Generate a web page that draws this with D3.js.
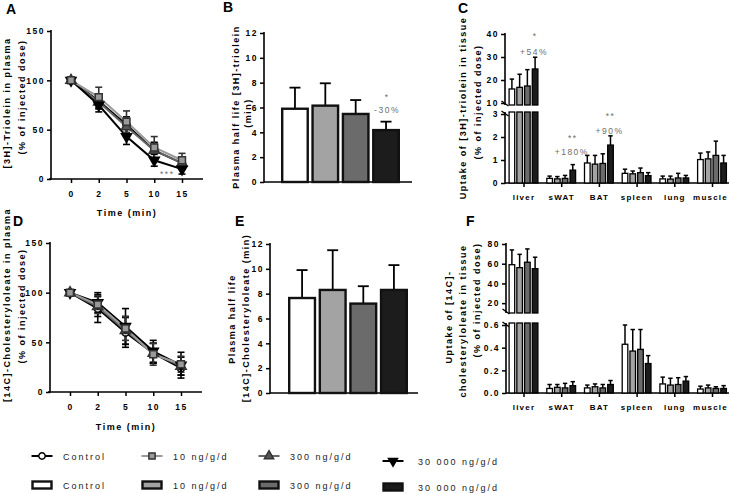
<!DOCTYPE html>
<html><head><meta charset="utf-8">
<script src="https://cdn.jsdelivr.net/npm/d3@7"></script>
<style>
body{margin:0;background:#fff;}
svg{display:block;font-family:"Liberation Sans",Arial,sans-serif;}
.tick text{font-size:8.5px;font-weight:bold;letter-spacing:1.5px;fill:#000;}
.tick line{stroke:#000;stroke-width:1.5px;}
.ttl{font-size:9px;font-weight:bold;letter-spacing:1.5px;fill:#000;}
.let{font-size:14px;font-weight:bold;fill:#000;}
.note{font-size:8.5px;letter-spacing:1.5px;fill:#6e6e6e;}
.leg{font-size:9px;letter-spacing:2px;fill:#222;}
</style></head><body>
<svg id="c" width="730" height="493"></svg>
<script>
// ---------- data ----------
const timeLabels = ["0","2","5","10","15"];
const groups = ["Control","10 ng/g/d","300 ng/g/d","30 000 ng/g/d"];
const tissues = ["liver","sWAT","BAT","spleen","lung","muscle"];

// A: [3H]-triolein in plasma (% of injected dose)
const aControl = [100,79,55,29,16];   const aControlSD = [0,7,8,8,6];
const a10      = [100,83,58,32,19];   const a10SD      = [0,10,11,11,7];
const a300     = [100,78,53,29,16];   const a300SD     = [0,7,8,8,6];
const a30000   = [100,75,43,19,10];   const a30000SD   = [0,7,8,6,5];

// D: [14C]-cholesteryloleate in plasma
const dControl = [100,84,60,39,24];   const dControlSD = [0,14,15,10,7];
const d10      = [100,88,64,38,28];   const d10SD      = [0,9,12,11,8];
const d300     = [100,86,62,39,26];   const d300SD     = [0,10,14,10,9];
const d30000   = [100,90,66,41,27];   const d30000SD   = [0,10,18,11,13];

// B / E: plasma half life (min)
const bMean = [5.9,6.15,5.48,4.18];  const bSD = [1.7,1.8,1.12,0.68];
const eMean = [7.65,8.3,7.2,8.3];    const eSD = [2.25,3.2,1.4,2.0];

// C: uptake of [3H]-triolein in tissue
const cControl = [16.1,0.2,0.87,0.42,0.18,1.02]; const cControlSD = [4.3,0.1,0.33,0.18,0.12,0.28];
const c10      = [16.8,0.18,0.82,0.4,0.17,1.05]; const c10SD      = [5.7,0.1,0.38,0.12,0.13,0.3];
const c300     = [17.4,0.2,0.85,0.45,0.22,1.2];  const c300SD     = [7.1,0.13,0.42,0.2,0.2,0.62];
const c30000   = [24.8,0.56,1.65,0.32,0.22,0.87];const c30000SD   = [5.1,0.24,0.4,0.13,0.11,0.33];

// F: uptake of [14C]-cholesteryloleate in tissue
const fControl = [59,0.04,0.045,0.43,0.08,0.035];  const fControlSD = [15,0.035,0.025,0.17,0.06,0.025];
const f10      = [56,0.05,0.055,0.37,0.07,0.045];  const f10SD      = [13.5,0.025,0.025,0.19,0.06,0.025];
const f300     = [61.5,0.045,0.045,0.385,0.075,0.04]; const f300SD  = [13.5,0.04,0.03,0.175,0.06,0.015];
const f30000   = [55,0.065,0.075,0.26,0.105,0.04]; const f30000SD   = [11.6,0.035,0.035,0.07,0.04,0.025];

const bNotes = [{group:"30 000 ng/g/d", star:"*", pct:"-30%", starV:7.0, pctV:5.8}];
const cNotes = [
  {tissue:"liver", star:"*",  pct:"+54%",  starV:40.2, pctV:32.3, seg:0},
  {tissue:"sWAT",  star:"**", pct:"+180%", starV:2.05, pctV:1.35, seg:1},
  {tissue:"BAT",   star:"**", pct:"+90%",  starV:3.0,  pctV:2.28, seg:1}
];

// ---------- styles ----------
const barFill = ["#ffffff","#a3a3a3","#6b6b6b","#1c1c1c"];
const lineCol = ["#000","#9a9a9a","#666","#000"];
const markFill = ["#fff","#9a9a9a","#555","#000"];
const markStroke = ["#000","#333","#333","#000"];
const markType = [d3.symbolCircle, d3.symbolSquare, d3.symbolTriangle, d3.symbolTriangle];
const markSize = [40, 48, 46, 44];
const markRot = [0,0,0,180];

const svg = d3.select("#c");

function vline(g,x,y1,y2,w){ g.append("line").attr("x1",x).attr("x2",x).attr("y1",y1).attr("y2",y2).attr("stroke","#000").attr("stroke-width",w||1.6); }
function hline(g,y,x1,x2,w){ g.append("line").attr("x1",x1).attr("x2",x2).attr("y1",y).attr("y2",y).attr("stroke","#000").attr("stroke-width",w||1.6); }
function yAxisAt(x, scale, ticks, fmt){
  const g = svg.append("g").attr("transform",`translate(${x},0)`)
    .call(d3.axisLeft(scale).tickValues(ticks).tickSize(4).tickPadding(2).tickFormat(fmt||d3.format("d")));
  g.select(".domain").remove();
  return g;
}
function rotLabel(x,y,txt){
  svg.append("text").attr("class","ttl").attr("text-anchor","middle")
    .attr("transform",`translate(${x},${y}) rotate(-90)`).text(txt);
}
function letter(x,y,t){ svg.append("text").attr("class","let").attr("x",x).attr("y",y).text(t); }

// ---------- line panels (A, D) ----------
function linePanel(cfg){
  const x = d3.scalePoint().domain(timeLabels).range([cfg.x0+20, cfg.x0+131]);
  const y = d3.scaleLinear().domain([0,150]).range([cfg.yBot, cfg.yTop]);
  vline(svg, cfg.x0, cfg.yTop-1, cfg.yBot+0.8);
  hline(svg, cfg.yBot, cfg.x0-2, cfg.x0+152);
  yAxisAt(cfg.x0, y, [0,50,100,150]);
  const xa = svg.append("g").attr("transform",`translate(0,${cfg.yBot})`)
    .call(d3.axisBottom(x).tickSize(4).tickPadding(8));
  xa.select(".domain").remove();
  const order = [0,2,3,1];
  const g = svg.append("g");
  order.forEach(i=>{
    g.append("path").datum(cfg.means[i])
      .attr("fill","none").attr("stroke",lineCol[i]).attr("stroke-width",2)
      .attr("d", d3.line().x((d,j)=>x(timeLabels[j])).y(d=>y(d)));
  });
  order.forEach(i=>{
    cfg.means[i].forEach((m,j)=>{
      const s = cfg.sds[i][j]; if(!s) return;
      const xx = x(timeLabels[j]);
      const col = i===1 ? "#333" : "#000";
      g.append("line").attr("x1",xx).attr("x2",xx).attr("y1",y(m-s)).attr("y2",y(m+s)).attr("stroke",col).attr("stroke-width",1.6);
      [m-s,m+s].forEach(v=>g.append("line").attr("x1",xx-3.5).attr("x2",xx+3.5).attr("y1",y(v)).attr("y2",y(v)).attr("stroke",col).attr("stroke-width",1.6));
    });
  });
  order.forEach(i=>{
    cfg.means[i].forEach((m,j)=>{
      g.append("path").attr("d", d3.symbol().type(markType[i]).size(markSize[i])())
        .attr("transform",`translate(${x(timeLabels[j])},${y(m)}) rotate(${markRot[i]})`)
        .attr("fill",markFill[i]).attr("stroke",markStroke[i]).attr("stroke-width",1.5);
    });
  });
  svg.append("text").attr("class","ttl").attr("text-anchor","middle").attr("x",cfg.x0+76).attr("y",cfg.titleY).text("Time (min)");
  return {x,y};
}

const A = linePanel({x0:51, yTop:31, yBot:179, titleY:216,
  means:[aControl,a10,a300,a30000], sds:[aControlSD,a10SD,a300SD,a30000SD]});
svg.append("text").attr("class","note").attr("text-anchor","middle").attr("x",A.x("10")+13).attr("y",A.y(0)-2).text("***");
rotLabel(10,103,"[3H]-Triolein in plasma");
rotLabel(25,97,"(% of injected dose)");
letter(6,14,"A");

const D = linePanel({x0:50, yTop:243, yBot:392, titleY:430,
  means:[dControl,d10,d300,d30000], sds:[dControlSD,d10SD,d300SD,d30000SD]});
rotLabel(10,305,"[14C]-Cholesteryloleate in plasma");
rotLabel(25,306,"(% of injected dose)");
letter(13,226,"D");

// ---------- half-life bar panels (B, E) ----------
function halfPanel(cfg){
  const y = d3.scaleLinear().domain([0,12]).range([cfg.yBot, cfg.yTop]);
  const x = d3.scaleBand().domain(groups).range([cfg.bx0, cfg.bx1]).paddingInner(0.08);
  vline(svg, cfg.x0, cfg.yTop-1, cfg.yBot+0.8);
  hline(svg, cfg.yBot, cfg.x0, cfg.xEnd);
  yAxisAt(cfg.x0, y, d3.range(0,13,2));
  const g = svg.append("g");
  groups.forEach((gr,i)=>{
    const m = cfg.mean[i], s = cfg.sd[i];
    const cx = x(gr)+x.bandwidth()/2;
    g.append("line").attr("x1",cx).attr("x2",cx).attr("y1",y(m)).attr("y2",y(m+s)).attr("stroke","#000").attr("stroke-width",1.8);
    g.append("line").attr("x1",cx-5.5).attr("x2",cx+5.5).attr("y1",y(m+s)).attr("y2",y(m+s)).attr("stroke","#000").attr("stroke-width",1.8);
    g.append("rect").attr("x",x(gr)+1.2).attr("width",x.bandwidth()-2.4)
      .attr("y",y(m)).attr("height",y(0)-y(m))
      .attr("fill",barFill[i]).attr("stroke","#111").attr("stroke-width",2.4);
  });
  return {x,y};
}
const B = halfPanel({x0:264, yTop:33, yBot:182, bx0:281, bx1:400, xEnd:412, mean:bMean, sd:bSD});
bNotes.forEach(n=>{
  const cx = B.x(n.group)+B.x.bandwidth()/2;
  svg.append("text").attr("class","note").attr("text-anchor","middle").attr("x",cx+1).attr("y",B.y(n.starV)+5).text(n.star);
  svg.append("text").attr("class","note").attr("text-anchor","middle").attr("x",cx+1).attr("y",B.y(n.pctV)+3).text(n.pct);
});
rotLabel(239,107,"Plasma half life [3H]-triolein");
rotLabel(251,113,"(min)");
letter(223,12,"B");

const E = halfPanel({x0:270, yTop:244, yBot:393, bx0:288, bx1:408, xEnd:418, mean:eMean, sd:eSD});
rotLabel(235,319,"Plasma half life");
rotLabel(249,318,"[14C]-Cholesteryloleate (min)");
letter(235,226,"E");

// ---------- tissue panels with broken axis (C, F) ----------
function tissuePanel(cfg){
  const x = d3.scalePoint().domain(tissues).range([523.5, 712]);
  const sub = d3.scaleBand().domain(groups).range([-15,15]).paddingInner(0.12);
  const [up, lo] = cfg.segs;
  vline(svg, cfg.x0, up.scale(up.ticks[up.ticks.length-1])-1, up.yBottom);
  vline(svg, cfg.x0, lo.yTop, lo.scale(0)+0.8);
  hline(svg, lo.scale(0), cfg.x0, 729);
  yAxisAt(cfg.x0, up.scale, up.ticks, up.fmt);
  yAxisAt(cfg.x0, lo.scale, lo.ticks, lo.fmt);
  [[up.yBottom-4, up.yBottom+1],[lo.yTop-1, lo.yTop+4]].forEach(([a,b])=>{
    svg.append("line").attr("x1",cfg.x0-3.5).attr("x2",cfg.x0+3.5).attr("y1",a).attr("y2",b).attr("stroke","#000").attr("stroke-width",1.4);
  });
  const xa = svg.append("g").attr("transform",`translate(0,${lo.scale(0)})`)
    .call(d3.axisBottom(x).tickSize(4).tickPadding(7));
  xa.select(".domain").remove();
  xa.selectAll(".tick text").style("letter-spacing","1.2px").style("font-size","8px");
  xa.selectAll(".tick text").filter(d=>d==="muscle").attr("dx",-2);
  const g = svg.append("g");
  const segsB = [
    {scale:up.scale, vlo:up.scale.invert(up.yBottom), vhi:Infinity},
    {scale:lo.scale, vlo:0, vhi:lo.scale.invert(lo.yTop)}
  ];
  tissues.forEach((t,ti)=>{
    groups.forEach((gr,gi)=>{
      const m = cfg.means[gi][ti], s = cfg.sds[gi][ti];
      const bx = x(t)+sub(gr), bw = sub.bandwidth(), cx = bx+bw/2;
      segsB.forEach(sg=>{
        if(m <= sg.vlo) return;
        const top = Math.min(m, sg.vhi);
        if(m <= sg.vhi){
          g.append("line").attr("x1",cx).attr("x2",cx).attr("y1",sg.scale(m)).attr("y2",sg.scale(m+s)).attr("stroke","#000").attr("stroke-width",1.5);
          g.append("line").attr("x1",cx-2.2).attr("x2",cx+2.2).attr("y1",sg.scale(m+s)).attr("y2",sg.scale(m+s)).attr("stroke","#000").attr("stroke-width",1.5);
        }
        g.append("rect").attr("x",bx+0.6).attr("width",bw-1.2)
          .attr("y",sg.scale(top)).attr("height",sg.scale(sg.vlo)-sg.scale(top))
          .attr("fill",barFill[gi]).attr("stroke","#000").attr("stroke-width",1.3);
      });
    });
  });
  return {x,sub};
}

const cUpper = d3.scaleLinear().domain([10,40]).range([103,34]);
const cLower = d3.scaleLinear().domain([0,3]).range([183,114]);
const C = tissuePanel({x0:505,
  segs:[{scale:cUpper, ticks:[10,20,30,40], yBottom:105},
        {scale:cLower, ticks:[0,1,2,3], yTop:112}],
  means:[cControl,c10,c300,c30000], sds:[cControlSD,c10SD,c300SD,c30000SD]});
const cScales = [cUpper, cLower];
cNotes.forEach(n=>{
  const cx = C.x(n.tissue)+C.sub(groups[3])+C.sub.bandwidth()/2;
  svg.append("text").attr("class","note").attr("text-anchor","middle").attr("x",cx).attr("y",cScales[n.seg](n.starV)+5).text(n.star);
  svg.append("text").attr("class","note").attr("text-anchor","middle").attr("x",cx-1).attr("y",cScales[n.seg](n.pctV)+3).text(n.pct);
});
rotLabel(466,108,"Uptake of [3H]-triolein in tissue");
rotLabel(481,102,"(% of injected dose)");
letter(458,13,"C");

tissuePanel({x0:506,
  segs:[{scale:d3.scaleLinear().domain([10,80]).range([313,244]), ticks:[20,40,60,80], yBottom:313},
        {scale:d3.scaleLinear().domain([0,0.6]).range([393,325]), ticks:[0,0.2,0.4,0.6], fmt:d3.format(".1f"), yTop:323}],
  means:[fControl,f10,f300,f30000], sds:[fControlSD,f10SD,f300SD,f30000SD]});
rotLabel(452,317,"Uptake of [14C]-");
rotLabel(466,321,"cholesteryloleate in tissue");
rotLabel(480,300,"(% of injected dose)");
letter(466,226,"F");

// ---------- legend ----------
const legX = [42,152,269,393];
const legTx = [63,173,290,418];
const row1 = [456,456,456,461], row2 = [485,485,485,487];
groups.forEach((gr,i)=>{
  const lg = svg.append("g");
  lg.append("line").attr("x1",legX[i]-10.5).attr("x2",legX[i]+10.5).attr("y1",row1[i]).attr("y2",row1[i])
    .attr("stroke",lineCol[i]).attr("stroke-width",2);
  lg.append("path").attr("d", d3.symbol().type(markType[i]).size(markSize[i]*0.8)())
    .attr("transform",`translate(${legX[i]},${row1[i]}) rotate(${markRot[i]})`)
    .attr("fill",markFill[i]).attr("stroke",markStroke[i]).attr("stroke-width",1.5);
  lg.append("text").attr("class","leg").attr("x",legTx[i]).attr("y",row1[i]+3.5).text(gr);
  lg.append("rect").attr("x",legX[i]-9.5).attr("y",row2[i]-3.5).attr("width",19).attr("height",7)
    .attr("fill",barFill[i]).attr("stroke","#111").attr("stroke-width",2.4);
  lg.append("text").attr("class","leg").attr("x",legTx[i]).attr("y",row2[i]+3.5).text(gr);
});
</script>
</body></html>
